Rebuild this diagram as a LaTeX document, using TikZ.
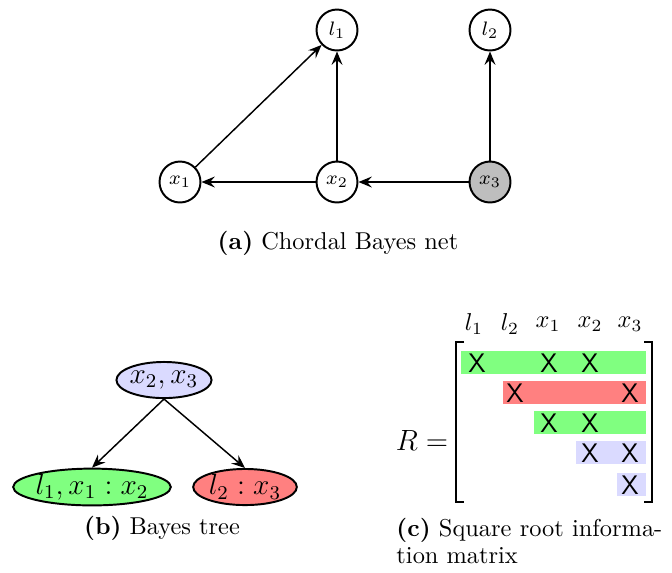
\documentclass[tikz,border=0pt]{standalone}
\usetikzlibrary{arrows.meta,shapes.geometric}
\definecolor{vgray}{RGB}{190,190,190}
\definecolor{rgreen}{RGB}{128,255,128}
\definecolor{rred}{RGB}{255,128,128}
\definecolor{rblue}{RGB}{218,218,255}
\tikzset{
  var/.style={circle,draw,thick,minimum size=16.8pt,inner sep=0pt,font=\footnotesize},
  arr/.style={semithick,-{Stealth[length=5.5pt,width=4.5pt,inset=2pt]}},
  clique/.style={ellipse,draw,thick,inner xsep=-0.3pt,inner ysep=0pt,font=\large},
  entry/.style={font=\sffamily\fontsize{11}{13}\selectfont,inner sep=0pt},
  collab/.style={inner sep=0pt},
}
\begin{document}
\begin{tikzpicture}[x=0.41pt,y=-0.41pt]
\useasboundingbox (0,0) rectangle (672,572);
% (a) chordal Bayes net
\node[var] (l1) at (337,30) {$l_1$};
\node[var] (l2) at (490,30) {$l_2$};
\node[var] (x1) at (180,182) {$x_1$};
\node[var] (x2) at (337,182) {$x_2$};
\node[var,fill=vgray] (x3) at (490,182) {$x_3$};
\draw[arr] (x1) -- (l1);
\draw[arr] (x2) -- (l1);
\draw[arr] (x2) -- (x1);
\draw[arr] (x3) -- (x2);
\draw[arr] (x3) -- (l2);
\node (capa) at (338,243) {\textbf{(a)} Chordal Bayes net};
% (b) Bayes tree
\node[clique,fill=rblue,minimum width=39pt,minimum height=14.8pt] (c1) at (164,380) {$x_2,x_3$};
\node[clique,fill=rgreen,minimum width=64pt,minimum height=14.8pt] (c2) at (92,487) {$l_1,x_1:x_2$};
\node[clique,fill=rred,minimum width=42.5pt,minimum height=14.8pt] (c3) at (245,487) {$l_2:x_3$};
\draw[arr] (c1.south) -- (c2.north);
\draw[arr] (c1.south) -- (c3.north);
\node (capb) at (162,528) {\textbf{(b)} Bayes tree};
% (c) square root information matrix
\fill[rgreen] (461,351) rectangle (646,374);
\fill[rred] (503,381) rectangle (646,404);
\fill[rgreen] (534,411) rectangle (646,434);
\fill[rblue] (576,441) rectangle (646,464);
\fill[rblue] (617,473) rectangle (646,496);
\draw[semithick] (464,342) -- (456,342) -- (456,502) -- (464,502);
\draw[semithick] (644,342) -- (652,342) -- (652,502) -- (644,502);
\node[collab] (hl1) at (474,324) {$l_1$};
\node[collab] (hl2) at (510,324) {$l_2$};
\node[collab] (hx1) at (548,324) {$x_1$};
\node[collab] (hx2) at (590,324) {$x_2$};
\node[collab] (hx3) at (630,324) {$x_3$};
\node[font=\large] (Req) at (422,440) {$R=$};
\node[entry] (e11) at (477,363) {X};
\node[entry] (e13) at (549,363) {X};
\node[entry] (e14) at (590,363) {X};
\node[entry] (e22) at (515,393) {X};
\node[entry] (e25) at (630,393) {X};
\node[entry] (e33) at (549,423) {X};
\node[entry] (e34) at (590,423) {X};
\node[entry] (e44) at (590,453) {X};
\node[entry] (e45) at (630,453) {X};
\node[entry] (e55) at (630,485) {X};
\node[anchor=west,inner sep=0pt] (capc1) at (396,530) {\hbox to 109pt{\textbf{(c)}\hfill Square\hfill root\hfill informa-}};
\node[anchor=west,inner sep=0pt] (capc2) at (396,556) {tion matrix};
\end{tikzpicture}
\end{document}
